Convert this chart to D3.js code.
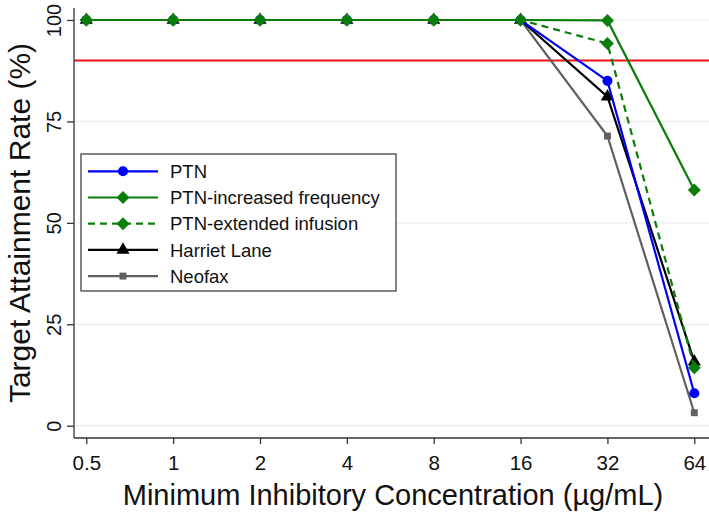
<!DOCTYPE html>
<html>
<head>
<meta charset="utf-8">
<script src="https://cdn.jsdelivr.net/npm/d3@7"></script>
<style>
body { margin: 0; background: #fff; }
svg { display: block; font-family: "Liberation Sans", Arial, sans-serif; }
</style>
</head>
<body>
<svg></svg>
<script>
var width = 709, height = 515;

// data
var mic = [0.5, 1, 2, 4, 8, 16, 32, 64];
var micLabels = ['0.5', '1', '2', '4', '8', '16', '32', '64'];
var yTicks = [0, 25, 50, 75, 100];
var ptn = [100, 100, 100, 100, 100, 100, 85.0, 8.0];
var ptnFreq = [100, 100, 100, 100, 100, 100, 99.9, 58.1];
var ptnExt = [100, 100, 100, 100, 100, 100, 94.2, 14.3];
var harriet = [100, 100, 100, 100, 100, 100, 81.1, 15.8];
var neofax = [100, 100, 100, 100, 100, 100, 71.4, 3.2];
var target = 90;

var series = [
	{name: 'PTN', values: ptn, color: '#0000ff', dash: null, marker: 'circle'},
	{name: 'PTN-increased frequency', values: ptnFreq, color: '#0a7d0a', dash: null, marker: 'diamond'},
	{name: 'PTN-extended infusion', values: ptnExt, color: '#0a7d0a', dash: '7,5', marker: 'diamond'},
	{name: 'Harriet Lane', values: harriet, color: '#000000', dash: null, marker: 'triangle'},
	{name: 'Neofax', values: neofax, color: '#606060', dash: null, marker: 'square'}
];

var svg = d3.select('svg')
		.attr('width', width)
		.attr('height', height);

var x = d3.scaleLog().base(2).domain([0.5, 64]).range([86.3, 694.3]);
var y = d3.scaleLinear().domain([0, 100]).range([425.7, 20]);
var axisLeft = 74, axisBottom = 438;

// gridlines
svg.append('g')
	.selectAll('line')
	.data(yTicks)
	.enter()
	.append('line')
		.attr('x1', axisLeft)
		.attr('x2', width)
		.attr('y1', function(d){return y(d)})
		.attr('y2', function(d){return y(d)})
		.attr('stroke', '#e8eeee')
		.attr('stroke-width', 1.2);

// target line
svg.append('line')
	.attr('x1', axisLeft)
	.attr('x2', width)
	.attr('y1', y(target))
	.attr('y2', y(target))
	.attr('stroke', '#ee1111')
	.attr('stroke-width', 2);

// axes
var xAxis = d3.axisBottom(x)
	.tickValues(mic)
	.tickFormat(function(d, i){return micLabels[i]})
	.tickSize(6)
	.tickPadding(5);
var gx = svg.append('g')
	.attr('transform', 'translate(0,' + axisBottom + ')')
	.call(xAxis);
gx.select('.domain').attr('d', 'M' + axisLeft + ',0H' + width).attr('stroke', '#333').attr('stroke-width', 1.3);
gx.selectAll('.tick line').attr('stroke', '#333').attr('stroke-width', 1.3);
gx.selectAll('.tick text')
	.attr('font-size', 20.5)
	.attr('font-family', '"Liberation Sans", Arial, sans-serif')
	.attr('fill', '#111')
	.attr('dy', null)
	.attr('y', 31.5);

var yAxis = d3.axisLeft(y)
	.tickValues(yTicks)
	.tickSize(7)
	.tickFormat(d3.format('d'));
var gy = svg.append('g')
	.attr('transform', 'translate(' + axisLeft + ',0)')
	.call(yAxis);
gy.select('.domain').attr('d', 'M0,8V' + axisBottom).attr('stroke', '#333').attr('stroke-width', 1.3);
gy.selectAll('.tick line').attr('stroke', '#333').attr('stroke-width', 1.3);
gy.selectAll('.tick text')
	.attr('font-size', 20)
	.attr('font-family', '"Liberation Sans", Arial, sans-serif')
	.attr('fill', '#111')
	.attr('text-anchor', 'middle')
	.attr('x', null)
	.attr('dy', null)
	.attr('transform', 'translate(-13,0) rotate(-90)');

// axis titles
svg.append('text')
	.attr('x', 393)
	.attr('y', 505)
	.attr('text-anchor', 'middle')
	.attr('font-size', 29)
	.attr('fill', '#111')
	.text('Minimum Inhibitory Concentration (µg/mL)');
svg.append('text')
	.attr('transform', 'translate(30,223) rotate(-90)')
	.attr('text-anchor', 'middle')
	.attr('font-size', 30)
	.attr('fill', '#111')
	.text('Target Attainment Rate (%)');

// markers
function markerPath(type){
	if(type == 'circle') return d3.symbol().type(d3.symbolCircle).size(80)();
	if(type == 'diamond') return 'M0,-6.5L6.5,0L0,6.5L-6.5,0Z';
	if(type == 'triangle') return d3.symbol().type(d3.symbolTriangle).size(75)();
	return d3.symbol().type(d3.symbolSquare).size(48)();
}

var line = d3.line()
	.x(function(d, i){return x(mic[i])})
	.y(function(d){return y(d)});

var drawOrder = [4, 3, 0, 2, 1];
drawOrder.forEach(function(k){
	var s = series[k];
	svg.append('path')
		.datum(s.values)
		.attr('d', line)
		.attr('fill', 'none')
		.attr('stroke', s.color)
		.attr('stroke-width', 2.2)
		.attr('stroke-dasharray', s.dash);
	svg.append('g')
		.selectAll('path')
		.data(s.values)
		.enter()
		.append('path')
			.attr('d', markerPath(s.marker))
			.attr('transform', function(d, i){return 'translate(' + x(mic[i]) + ',' + y(d) + ')'})
			.attr('fill', s.color);
});

// legend
var legend = svg.append('g').attr('transform', 'translate(81,154)');
legend.append('rect')
	.attr('x', 0).attr('y', 0)
	.attr('width', 315).attr('height', 137)
	.attr('fill', '#fff')
	.attr('stroke', '#444')
	.attr('stroke-width', 1.3);
var rows = legend.selectAll('.row')
	.data(series)
	.enter()
	.append('g')
		.attr('class', 'row')
		.attr('transform', function(d, i){return 'translate(0,' + (17.3 + i * 26.2) + ')'});
rows.append('line')
	.attr('x1', 7).attr('x2', 77)
	.attr('stroke', function(d){return d.color})
	.attr('stroke-width', 2.2)
	.attr('stroke-dasharray', function(d){return d.dash});
rows.append('path')
	.attr('d', function(d){return markerPath(d.marker)})
	.attr('transform', 'translate(42,0)')
	.attr('fill', function(d){return d.color});
rows.append('text')
	.attr('x', 89)
	.attr('y', 6.7)
	.attr('font-size', 18.5)
	.attr('fill', '#111')
	.text(function(d){return d.name});
</script>
</body>
</html>
